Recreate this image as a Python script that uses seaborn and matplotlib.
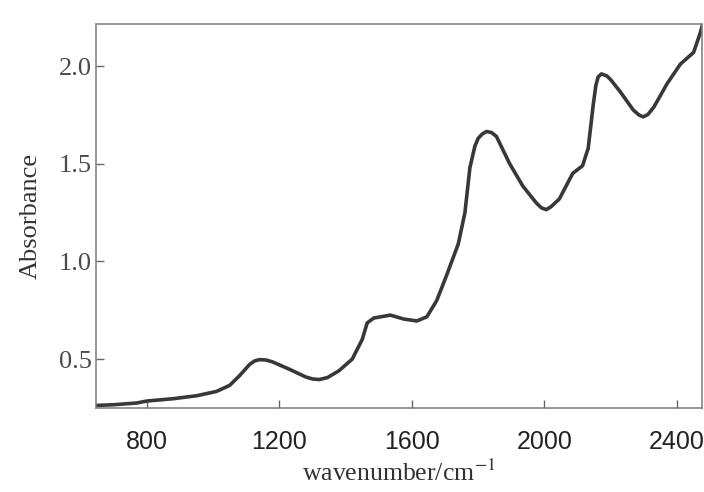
import pandas as pd
import matplotlib
matplotlib.use('Agg')
import matplotlib.pyplot as plt
import seaborn as sns

# Spectrum (wavenumber in cm-1, absorbance)
wavenumber = [640, 700, 770, 800, 880, 950, 1010, 1050, 1080, 1110, 1125, 1140,
              1160, 1180, 1230, 1280, 1300, 1320, 1345, 1380, 1420, 1450, 1465,
              1485, 1535, 1575, 1615, 1645, 1675, 1705, 1740, 1760, 1775, 1790,
              1800, 1812, 1825, 1840, 1855, 1895, 1935, 1975, 1990, 2005, 2020,
              2045, 2085, 2115, 2132, 2147, 2155, 2162, 2172, 2188, 2200, 2228,
              2268, 2285, 2298, 2312, 2330, 2370, 2410, 2450, 2470, 2480]
absorbance = [0.262, 0.266, 0.275, 0.285, 0.297, 0.312, 0.334, 0.365, 0.415, 0.472,
              0.490, 0.497, 0.495, 0.485, 0.448, 0.408, 0.398, 0.395, 0.405, 0.44,
              0.50, 0.60, 0.685, 0.71, 0.725, 0.705, 0.695, 0.716, 0.80, 0.93,
              1.09, 1.25, 1.48, 1.59, 1.630, 1.652, 1.665, 1.660, 1.64, 1.50,
              1.385, 1.30, 1.275, 1.265, 1.280, 1.32, 1.45, 1.49, 1.58, 1.80,
              1.90, 1.945, 1.960, 1.95, 1.930, 1.87, 1.775, 1.750, 1.74, 1.752,
              1.79, 1.91, 2.01, 2.07, 2.17, 2.23]

x_ticks = [800, 1200, 1600, 2000, 2400]
y_ticks = [0.5, 1.0, 1.5, 2.0]

df = pd.DataFrame({'wavenumber': wavenumber, 'absorbance': absorbance})

sns.set_style('ticks')
plt.rcParams['font.family'] = ['Liberation Serif', 'DejaVu Serif']
plt.rcParams['mathtext.fontset'] = 'stix'

fig = plt.figure(figsize=(7.04, 4.92), dpi=100)
ax = fig.add_axes([0.136, 0.171, 0.861, 0.780])

sns.lineplot(x='wavenumber', y='absorbance', data=df, ax=ax,
             color='#383838', linewidth=2.6)

ax.set_xlim(646, 2475)
ax.set_ylim(0.25, 2.215)
ax.set_xticks(x_ticks)
ax.set_yticks(y_ticks)
ax.set_yticklabels(['0.5', '1.0', '1.5', '2.0'])

ax.tick_params(axis='both', direction='in', length=6, width=1, color='#666666')
ax.tick_params(axis='y', labelsize=19, labelcolor='#4a4a4a', pad=3)
ax.tick_params(axis='x', labelsize=18, labelcolor='#222222', pad=16)
for lab in ax.get_xticklabels():
    lab.set_family('Liberation Sans')

for s in ax.spines.values():
    s.set_color('#7a7a7a')
    s.set_linewidth(1.1)
    s.set_linestyle((0, (3, 1)))

ax.set_xlabel('wavenumber/cm$^{-1}$', fontsize=18.5, color='#333333', labelpad=4)
ax.set_ylabel('Absorbance', fontsize=19, color='#333333', labelpad=12)

fig.savefig('out.png', dpi=100, facecolor='white')
